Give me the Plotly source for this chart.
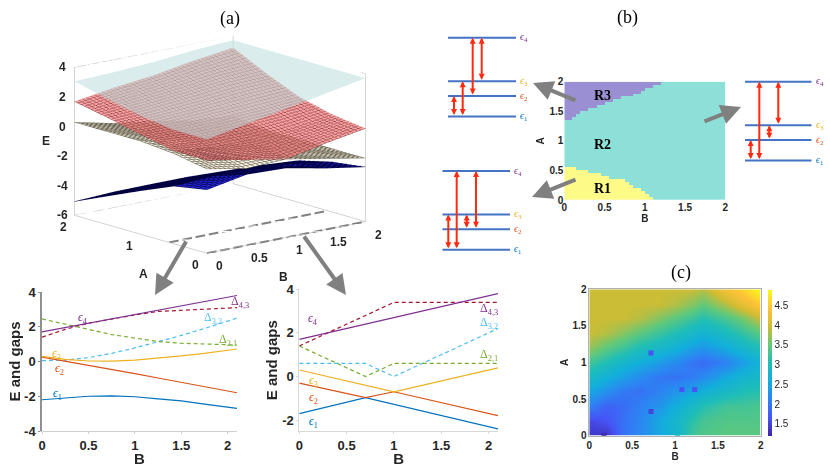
import plotly.graph_objects as go

W, H = 830, 467
def fx(p): return p / W
def fy(p): return 1 - p / H

# ---------- panel (a) surfaces ----------
grid_B = [0, 0.5, 1, 1.5, 2]
grid_A = [0, 0.5, 1, 1.5, 2]
surf_e1 = [[-1.7,-1.2,-1.3,-1.85,-2.3],[-2.1,-1.95,-2.0,-2.2,-2.6],[-3.05,-2.9,-2.85,-2.95,-3.15],[-4.05,-3.85,-3.85,-4.0,-4.1],[-5.06,-4.95,-5.0,-5.2,-5.5]]
surf_e2 = [[-0.3,-0.8,-0.7,-1.2,-1.7],[0.1,-0.25,-0.7,-1.2,-1.7],[0.3,-0.1,-0.7,-1.2,-1.7],[0.3,-0.2,-0.7,-1.2,-1.7],[0.3,-0.3,-0.7,-1.2,-1.4]]
surf_e3 = [[0.3,-0.2,-0.7,-0.15,0.3],[0.3,0.0,0.0,0.2,0.6],[0.75,0.7,0.8,0.95,1.15],[1.25,1.45,1.7,2.0,2.1],[1.7,2.1,2.4,2.85,3.2]]
surf_e4 = [[1.7,2.2,2.7,3.2,3.7],[1.7,2.2,2.7,3.2,3.7],[2.0,2.3,2.75,3.2,3.7],[2.5,2.6,2.85,3.2,3.7],[3.06,3.15,3.3,3.55,3.7]]
z_ticks = [-6, -4, -2, 0, 2, 4]
b_ticks_3d = [0, 0.5, 1, 1.5, 2]
a_ticks_3d = [0, 1, 2]
cut_A = [0.57, 0.0]
cut_B = [0, 2]

# ---------- line panels ----------
L_B = [0, 0.25, 0.5, 0.75, 1, 1.25, 1.5, 1.75, 2, 2.1]
L_e1 = [-2.2,-2.1,-2.0,-1.98,-2.03,-2.15,-2.27,-2.45,-2.62,-2.7]
L_e2 = [0.25,0.02,-0.2,-0.45,-0.7,-0.95,-1.2,-1.45,-1.7,-1.8]
L_e3 = [0.3,0.12,0.03,0.02,0.08,0.18,0.32,0.47,0.65,0.72]
L_e4 = [1.7,1.95,2.2,2.45,2.7,2.95,3.2,3.45,3.7,3.8]
L_d43 = [1.4,1.85,2.2,2.45,2.68,2.88,2.95,3.02,3.08,3.1]
L_d32 = [0.05,0.08,0.22,0.47,0.78,1.13,1.5,1.9,2.35,2.5]
L_d21 = [2.45,2.15,1.85,1.55,1.35,1.15,1.05,1.0,0.95,0.95]

R_e1_B = [0, 0.7, 2.1];  R_e1 = [-1.7, -0.97, -2.4]
R_e2_B = [0, 0.7, 1, 2.1]; R_e2 = [-0.3, -0.97, -0.7, -1.8]
R_e3_B = [0, 1, 2.1];    R_e3 = [0.3, -0.7, 0.4]
R_e4_B = [0, 2.1];       R_e4 = [1.7, 3.8]
R_d43_B = [0, 1, 2.1];   R_d43 = [1.4, 3.4, 3.4]
R_d32_B = [0, 0.7, 1, 2.1]; R_d32 = [0.6, 0.6, 0, 2.2]
R_d21_B = [0, 0.7, 1, 2.1]; R_d21 = [1.4, 0, 0.6, 0.6]

COL = dict(e1='#0072bd', e2='#d95319', e3='#edb120', e4='#7e2f8e', d43='#a2142f', d32='#4dbeee', d21='#77ac30')

# ---------- panel (b) ----------
b_step = 0.05
r3_boundary = [1.35,1.35,1.4,1.45,1.5,1.5,1.55,1.55,1.6,1.6,1.65,1.65,1.7,1.7,1.75,1.75,1.75,1.8,1.8,1.85,1.9,1.9,1.95,1.95,2.0,2.0]
r1_boundary = [.55,.55,.55,.5,.5,.5,.45,.45,.45,.4,.4,.35,.35,.35,.35,.3,.25,.2,.2,.15,.1,.05]
levels = [0, 20.5, 35.2, 78.8]

# ---------- panel (c) ----------
c_B = [0,.2,.4,.6,.8,1,1.2,1.33,1.6,1.8,2]
c_A = [0,.2,.4,.6,.8,1,1.2,1.4,1.6,1.8,2]
c_z = [
 [1.4,1.35,1.95,2.2,2.5,2.75,3.3,3.38,3.45,3.45,3.45],
 [1.55,1.65,1.95,2.15,2.5,2.8,3.15,3.33,3.4,3.4,3.4],
 [2.1,1.8,1.9,2.1,2.3,2.6,2.9,3.1,3.3,3.3,3.35],
 [2.5,2.25,2.0,1.95,2.1,2.3,2.5,2.65,2.9,3.05,3.1],
 [2.9,2.65,2.4,2.2,2.0,1.95,2.05,2.2,2.55,2.75,2.9],
 [3.3,3.05,2.8,2.6,2.4,2.2,1.98,1.88,2.1,2.4,2.7],
 [3.7,3.45,3.25,3.0,2.85,2.65,2.4,2.3,2.55,2.8,3.05],
 [3.95,3.85,3.65,3.45,3.25,3.05,2.85,2.7,2.95,3.2,3.45],
 [3.95,3.95,3.95,3.85,3.65,3.45,3.25,3.1,3.35,3.6,3.95],
 [3.95,3.95,3.95,3.95,3.95,3.85,3.65,3.5,3.85,4.2,4.5],
 [3.95,3.95,3.95,3.95,3.95,3.95,3.95,3.85,4.35,4.6,4.9]]
odd_B = [0.72, 1.08, 1.23, 0.72, 0.17, 1.03]
odd_A = [1.13, 0.63, 0.63, 0.33, 0.0, 0.0]
odd_z = [1.65, 1.65, 1.65, 1.5, 1.2, 2.9]
c_ticks = [1.5, 2, 2.5, 3, 3.5, 4, 4.5]

parula = [[0,'rgb(62,38,168)'],[.125,'rgb(71,84,246)'],[.25,'rgb(44,133,243)'],[.375,'rgb(18,175,220)'],
          [.5,'rgb(31,190,184)'],[.625,'rgb(100,201,120)'],[.75,'rgb(210,188,50)'],[.875,'rgb(254,195,56)'],[1,'rgb(249,251,21)']]

fig = go.Figure()
annos = []
TXT = '#262626'

def flat(c): return [[0, c], [1, c]]

# surfaces, bottom to top
def surf(z, color, op, mesh=None, mw=1, step=0.05):
    kw = {}
    if mesh:
        c = dict(show=True, start=0, end=2, size=step, color=mesh, width=mw, highlight=False)
        kw['contours'] = dict(x=c, y=c, z=dict(highlight=False))
    fig.add_trace(go.Surface(x=grid_B, y=grid_A, z=z, colorscale=flat(color), showscale=False, opacity=op,
                             hoverinfo='skip', lighting=dict(ambient=1, diffuse=0, specular=0, fresnel=0), **kw))
surf(surf_e1, '#2a2ae8', 1, '#000040', step=0.07)
surf(surf_e2, '#f8f2e4', 1, '#605a48', step=0.06)
surf(surf_e3, '#f47c7c', 0.72, '#904848')
surf(surf_e4, '#bcdcdc', 0.55)

# box edges
x0, x1, y0, y1, z0, z1 = 0, 2, 0, 2, -6, 4
edges = [(x0,y1,z0),(x1,y1,z0),(x1,y1,z1),(x0,y1,z1),(x0,y1,z0),(x0,y0,z0),(x1,y0,z0),(x1,y1,z0),None,
         (x0,y1,z1),(x0,y1,z0),None,(x1,y1,z1),(x1,y0,z1),(x1,y0,z0)]
ex = [e[0] if e else None for e in edges]; ey = [e[1] if e else None for e in edges]; ez = [e[2] if e else None for e in edges]
fig.add_trace(go.Scatter3d(x=ex, y=ey, z=ez, mode='lines', line=dict(color='#c8c8c8', width=1.5), hoverinfo='skip', showlegend=False))
# dashed cuts built as separate pieces: gl lines draw a heavy dash badly
pieces = 12
for a in cut_A:
    dx_, dy_, dz_ = [], [], []
    seg = (cut_B[1] - cut_B[0]) / pieces
    for i in range(pieces):
        dx_ += [cut_B[0] + i * seg, cut_B[0] + (i + 0.72) * seg, None]
        dy_ += [a, a, None]
        dz_ += [-6, -6, None]
    fig.add_trace(go.Scatter3d(x=dx_, y=dy_, z=dz_, mode='lines', hoverinfo='skip', showlegend=False,
                               connectgaps=False, line=dict(color='#808080', width=4)))

scene_annos = []
def sa(x, y, z, t, dx=0, dy=0, size=12, w=700):
    scene_annos.append(dict(x=x, y=y, z=z, text=t, showarrow=False, xshift=dx, yshift=dy,
                            font=dict(family='Liberation Sans', size=size, color=TXT, weight=w)))
for v in z_ticks: sa(0, 2, v, str(v), -12, 0)
for v in b_ticks_3d: sa(v, 0, -6, f'{v:g}', 13, -13)
for v in a_ticks_3d: sa(0, v, -6, str(v), -11, -12)
sa(0.9, 0, -6, 'B', 5, -38, 12); sa(0, 1.0, -6, 'A', 3, -40, 12); sa(0, 2, 0, 'E', -28, -14, 12)

ax3 = dict(visible=False, showbackground=False, showgrid=False, zeroline=False, showticklabels=False)
scene = dict(domain=dict(x=[fx(20), fx(420)], y=[fy(289), fy(0)]),
             xaxis=dict(range=[0, 2], **ax3), yaxis=dict(range=[0, 2], **ax3), zaxis=dict(range=[-6, 4], **ax3),
             aspectmode='manual', aspectratio=dict(x=1.43, y=1.43, z=1.054),
             camera=dict(projection=dict(type='orthographic'), up=dict(x=0, y=0, z=1), center=dict(x=0, y=0, z=0),
                         eye=dict(x=-.622*1.6, y=-.745*1.6, z=.239*1.6)),
             annotations=scene_annos, bgcolor='rgba(0,0,0,0)')

# axes helper
layout = dict(scene=scene)
def axes(n, px0, px1, py0, py1, xr, yr, **kw):
    xa, ya = ('xaxis', 'yaxis') if n == 1 else (f'xaxis{n}', f'yaxis{n}')
    sn = '' if n == 1 else str(n)
    layout[xa] = dict(domain=[fx(px0), fx(px1)], range=xr, anchor='y'+sn, **kw.get('x', dict(visible=False)))
    layout[ya] = dict(domain=[fy(py1), fy(py0)], range=yr, anchor='x'+sn, **kw.get('y', dict(visible=False)))
    return 'x'+sn, 'y'+sn

def line_ax(title, ticks, lw=1.5, col='#909090', tf=13, ts=15, standoff=0):
    return dict(showline=True, linecolor=col, linewidth=lw, showgrid=False, zeroline=False, ticks='outside', ticklen=2,
                tickcolor=col, tickvals=ticks, ticktext=[f'{t:g}' for t in ticks],
                tickfont=dict(family='Liberation Sans', size=tf, color=TXT, weight=700),
                title=dict(text=title, font=dict(family='Liberation Sans', size=ts, color=TXT, weight=700), standoff=standoff))

# left line panel
xa, ya = axes(1, 42, 237, 292, 431, [0, 2.1], [-4, 4],
              x=line_ax('B', [0,.5,1,1.5,2], 1, '#d0d0d0'), y=line_ax('E and gaps', [-4,-2,0,2,4]))
for vals, k, dash in [(L_d43,'d43','dash'),(L_d32,'d32','dash'),(L_d21,'d21','dash'),(L_e1,'e1','solid'),(L_e2,'e2','solid'),(L_e3,'e3','solid'),(L_e4,'e4','solid')]:
    fig.add_trace(go.Scatter(x=L_B, y=vals, xaxis=xa, yaxis=ya, mode='lines', showlegend=False, hoverinfo='skip', cliponaxis=False,
                             line=dict(color=COL[k], width=1.2, dash='solid' if dash=='solid' else '4px,3px')))

# right line panel
xb, yb = axes(2, 299.3, 498, 289.3, 431, [0, 2.1], [-2.5, 4],
              x=line_ax('B', [0,.5,1,1.5,2], 1, '#d8d8d8'), y=line_ax('E and gaps', [-2,0,2,4], 1, '#d8d8d8'))
for bx, vals, k, dash in [(R_d43_B,R_d43,'d43',1),(R_d32_B,R_d32,'d32',1),(R_d21_B,R_d21,'d21',1),(R_e1_B,R_e1,'e1',0),(R_e2_B,R_e2,'e2',0),(R_e3_B,R_e3,'e3',0),(R_e4_B,R_e4,'e4',0)]:
    fig.add_trace(go.Scatter(x=bx, y=vals, xaxis=xb, yaxis=yb, mode='lines', showlegend=False, hoverinfo='skip', cliponaxis=False,
                             line=dict(color=COL[k], width=1.2, dash='4px,3px' if dash else 'solid')))

def lab(xr, yr, x, y, t, k, size=12, dx=0, dy=0):
    annos.append(dict(xref=xr, yref=yr, x=x, y=y, text=t, showarrow=False, xshift=dx, yshift=dy, xanchor='center', yanchor='middle',
                      font=dict(family='Liberation Serif', size=size, color=COL[k])))
def E(n): return f'<i>ϵ</i><sub>{n}</sub>'
def D(s): return f'Δ<sub>{s}</sub>'
for x, y, t, k in [(0.44,2.5,E(4),'e4'),(0.16,0.45,E(3),'e3'),(0.19,-0.45,E(2),'e2'),(0.17,-1.85,E(1),'e1'),
                   (1.84,2.5,D('3,2'),'d32'),(2.0,1.26,D('2,1'),'d21')]:
    lab(xa, ya, x, y, t, k)
lab(xa, ya, 2.1, 3.4, D('4,3'), 'e4', dx=3)
for x, y, t, k in [(0.15,2.65,E(4),'e4'),(0.15,-0.2,E(3),'e3'),(0.15,-1.0,E(2),'e2'),(0.15,-2.1,E(1),'e1'),
                   (2.0,3.1,D('4,3'),'e4'),(2.0,2.45,D('3,2'),'d32'),(2.0,1.0,D('2,1'),'d21')]:
    lab(xb, yb, x, y, t, k)

# panel (b)
nb = 40
bcent = [(i + 0.5) * b_step for i in range(nb)]
zb = []
for j in range(nb):
    row = []
    for i in range(nb):
        a = bcent[j]
        v = 2
        if i < len(r3_boundary) and a >= r3_boundary[i]: v = 3
        if i < len(r1_boundary) and a <= r1_boundary[i]: v = 1
        row.append(v)
    zb.append(row)
small_ax = lambda t, v, s=10: dict(showline=False, showgrid=False, zeroline=False, ticks='', tickvals=v, ticktext=[f'{x:g}' for x in v],
                             tickfont=dict(family='Liberation Sans', size=s, color=TXT, weight=700),
                             title=dict(text=t, font=dict(family='Liberation Sans', size=s, color=TXT, weight=700), standoff=2))
xc, yc = axes(3, 564.3, 725.3, 81.7, 200, [0, 2], [0, 2],
              x=small_ax('B', [0,.5,1,1.5,2]), y=small_ax('A', [0,.5,1,1.5,2]))
fig.add_trace(go.Heatmap(x=bcent, y=bcent, z=zb, xaxis=xc, yaxis=yc, zmin=1, zmax=3, showscale=False, hoverinfo='skip',
                         colorscale=[[0,'#fdfa88'],[.5,'#8de0d8'],[1,'#9b8fd3']]))
for y, t in [(1.77,'R3'),(0.93,'R2'),(0.2,'R1')]:
    annos.append(dict(xref=xc, yref=yc, x=0.47, y=y, text=f'<b>{t}</b>', showarrow=False, xanchor='center', yanchor='middle',
                      font=dict(family='Liberation Serif', size=14, color='black')))

# level schemes
def scheme(n, px0, px1, ytop, arrows):
    bot = ytop + levels[3]
    xs, ys = axes(n, px0, px1, ytop-4, bot+4, [0, px1-px0], [-4, levels[3]+4])
    for k, v in zip(['e1','e2','e3','e4'], levels):
        fig.add_trace(go.Scatter(x=[0, px1-px0], y=[v, v], xaxis=xs, yaxis=ys, mode='lines', showlegend=False, hoverinfo='skip',
                                 line=dict(color='#4472c4', width=2)))
        annos.append(dict(xref=xs, yref=ys, x=px1-px0, y=v, text=E(int(k[1])), showarrow=False, xanchor='left', yanchor='middle', xshift=2,
                          font=dict(family='Liberation Serif', size=10, color=COL[k])))
    for x, a, b in arrows:
        annos.append(dict(xref=xs, yref=ys, axref=xs, ayref=ys, x=x-px0, y=levels[b], ax=x-px0, ay=levels[a], text='',
                          showarrow=True, arrowhead=2, startarrowhead=2, arrowside='end+start', arrowsize=0.6, startarrowsize=0.6,
                          arrowwidth=2, arrowcolor='#ff2a10', standoff=0, startstandoff=0))
scheme(5, 448, 516, 37.7, [(472.7,1,3),(481.7,2,3),(454,0,1),(462.7,0,2)])
scheme(6, 442.3, 510, 171, [(456.7,0,3),(476,1,3),(448.3,0,2),(466.7,1,2)])
scheme(7, 745, 811.7, 81.7, [(759.3,0,3),(778.3,2,3),(750.7,0,1),(769.3,1,2)])

# panel (c)
cax = small_ax('B', [0,.5,1,1.5,2], 10); cay = small_ax('A', [0,.5,1,1.5,2], 10)
cax.update(showline=True, linecolor='#b0b0b0', linewidth=0.7, mirror=True)
cay.update(showline=True, linecolor='#b0b0b0', linewidth=0.7, mirror=True)
xd, yd = axes(4, 589.3, 760.7, 289.3, 435.7, [0, 2], [0, 2], x=cax, y=cay)
fig.add_trace(go.Heatmap(x=c_B, y=c_A, z=c_z, xaxis=xd, yaxis=yd, zmin=1.2, zmax=4.9, zsmooth='best', colorscale=parula, hoverinfo='skip',
                         colorbar=dict(x=fx(768.3), xanchor='left', y=fy(435.7), yanchor='bottom', len=146.4/H, lenmode='fraction',
                                       thickness=4.4, thicknessmode='pixels', tickvals=c_ticks, ticktext=[f'{t:g}' for t in c_ticks],
                                       ticks='', outlinewidth=0, xpad=0, ypad=0, tickfont=dict(family='Liberation Sans', size=10, color=TXT))))
fig.add_trace(go.Scatter(x=odd_B, y=odd_A, xaxis=xd, yaxis=yd, mode='markers', showlegend=False, hoverinfo='skip', cliponaxis=True,
                         marker=dict(symbol='square', size=5, color=odd_z, cmin=1.2, cmax=4.9, colorscale=parula, showscale=False)))

# titles
for x, y, t in [(230,19,'(a)'),(627,18,'(b)'),(681,272,'(c)')]:
    annos.append(dict(xref='paper', yref='paper', x=fx(x), y=fy(y), text=t, showarrow=False, xanchor='center', yanchor='middle',
                      font=dict(family='Liberation Serif', size=18, color='black')))
# grey arrows (head, tail)
for hx, hy, tx, ty in [(155,295,187,240),(346,295,303,235),(533,83,577,101),(532,197,577,179),(741,107,703,122)]:
    annos.append(dict(xref='paper', yref='paper', x=fx(hx), y=fy(hy), ax=tx-hx, ay=ty-hy, axref='pixel', ayref='pixel', text='',
                      showarrow=True, arrowhead=2, arrowsize=1, arrowwidth=4, arrowcolor='#808080', standoff=0))

fig.update_layout(width=W, height=H, margin=dict(l=0, r=0, t=0, b=0, autoexpand=False), paper_bgcolor='white', plot_bgcolor='rgba(0,0,0,0)',
                  showlegend=False, annotations=annos, **layout)
fig.write_html("out.html", config=dict(displayModeBar=False),
               post_script="document.body.style.margin='0';document.documentElement.style.overflow='hidden';")
